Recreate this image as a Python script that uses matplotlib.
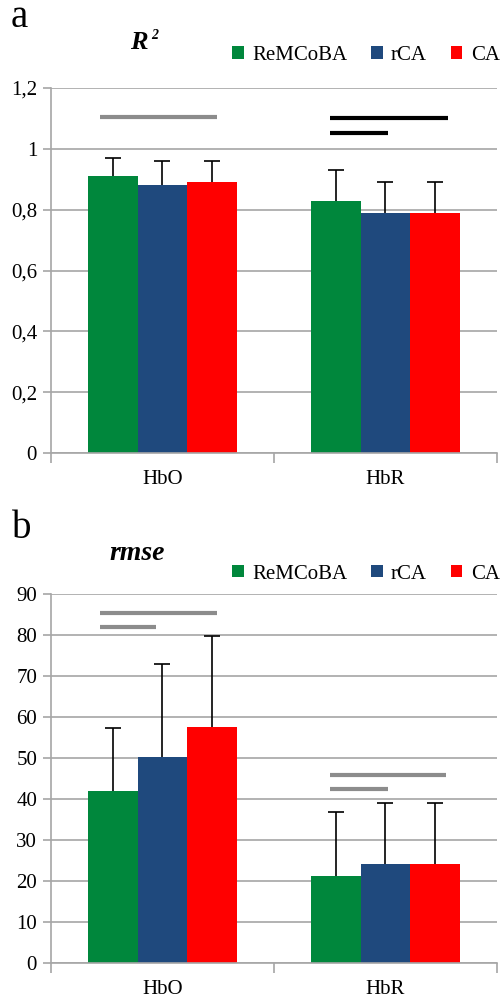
import matplotlib.pyplot as plt
import numpy as np

plt.rcParams["font.family"] = ["Liberation Serif", "DejaVu Serif"]

groups = ["HbO", "HbR"]
methods = ["ReMCoBA", "rCA", "CA"]
colors = ["#00873c", "#1f497d", "#ff0000"]

# R^2 means and standard deviations (rows: method, cols: HbO, HbR)
r2_mean = [[0.91, 0.83], [0.88, 0.79], [0.89, 0.79]]
r2_sd = [[0.06, 0.10], [0.08, 0.10], [0.07, 0.10]]

# rmse means and standard deviations
rmse_mean = [[42.0, 21.4], [50.3, 24.1], [57.6, 24.1]]
rmse_sd = [[15.5, 15.6], [22.8, 15.0], [22.2, 15.0]]

# significance brackets: (x start, x end, y, colour)
r2_sig = [(-0.28, 0.245, 1.105, "#8c8c8c"),
          (0.75, 1.28, 1.10, "#000000"),
          (0.75, 1.01, 1.052, "#000000")]
rmse_sig = [(-0.28, 0.245, 85.4, "#8c8c8c"),
            (-0.28, -0.03, 82.0, "#8c8c8c"),
            (0.75, 1.27, 45.9, "#8c8c8c"),
            (0.75, 1.01, 42.6, "#8c8c8c")]

fig = plt.figure(figsize=(5.03, 10), dpi=100)
ax1 = fig.add_axes([0.1014, 0.547, 0.8866, 0.365])
ax2 = fig.add_axes([0.1014, 0.0367, 0.8866, 0.369])

grid_col = "#a6a6a6"
w = 0.223
x = np.arange(len(groups))


def draw(ax, means, sds, sig, ymax, step, fmt, leg_y):
    for i, m in enumerate(methods):
        ax.bar(x + (i - 1) * w, means[i], w, color=colors[i], label=m, zorder=3)
        # lower half of each error bar sits behind its bar
        ax.errorbar(x + (i - 1) * w, means[i], yerr=sds[i],
                    fmt="none", ecolor="black", elinewidth=1.2, capsize=6,
                    capthick=1.2, zorder=2)
    for x0, x1, y, c in sig:
        ax.plot([x0, x1], [y, y], color=c, lw=3, solid_capstyle="butt", zorder=5)
    ax.set_xlim(-0.5, 1.5)
    ax.set_ylim(0, ymax)
    ticks = np.arange(0, ymax + step / 2, step)
    ax.set_yticks(ticks)
    ax.set_yticklabels([fmt(t) for t in ticks], fontsize=15,
                       family=["Liberation Serif"])
    ax.yaxis.grid(True, color=grid_col, lw=1.2, zorder=0)
    ax.set_xticks([-0.5, 0.5, 1.5])
    ax.set_xticklabels([])
    ax.set_xticks(x, minor=True)
    ax.set_xticklabels(groups, minor=True, fontsize=15,
                       family=["Liberation Serif"])
    ax.tick_params(axis="x", which="minor", length=0, pad=12)
    ax.tick_params(axis="x", which="major", length=7, color=grid_col, width=1.2)
    ax.tick_params(axis="y", length=6, color=grid_col, width=1.2, pad=4)
    for s in ["top", "right"]:
        ax.spines[s].set_visible(False)
    for s in ["left", "bottom"]:
        ax.spines[s].set_color(grid_col)
        ax.spines[s].set_linewidth(1.2)
    ax.spines["bottom"].set_zorder(6)
    ax.legend(loc="center right", bbox_to_anchor=(1.025, leg_y), ncol=3,
              frameon=False, fontsize=15, handlelength=0.55, handleheight=0.55,
              handletextpad=0.4, columnspacing=1.15, borderaxespad=0.0)


def comma(t):
    s = f"{t:.1f}".rstrip("0").rstrip(".")
    return s.replace(".", ",")


draw(ax1, r2_mean, r2_sd, r2_sig, 1.2, 0.2, comma, 1.09)
draw(ax2, rmse_mean, rmse_sd, rmse_sig, 90, 10, lambda t: f"{int(t)}", 1.055)

fig.text(0.022, 0.973, "a", fontsize=28, va="baseline")
fig.text(0.258, 0.9507, "R", fontsize=19, va="baseline",
         fontweight="bold", fontstyle="italic")
fig.text(0.301, 0.961, "2", fontsize=10, va="baseline",
         fontweight="bold", fontstyle="italic")
fig.text(0.024, 0.462, "b", fontsize=28, va="baseline")
fig.text(0.273, 0.44, "rmse", fontsize=20, va="baseline", ha="center",
         fontweight="bold", fontstyle="italic")

fig.savefig("out.png", dpi=100)
